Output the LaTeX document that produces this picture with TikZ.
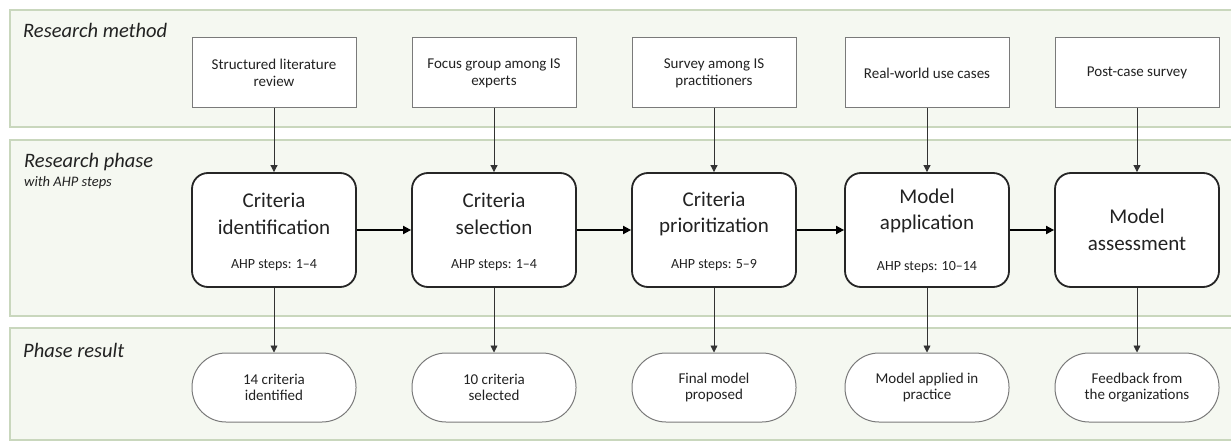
\documentclass[tikz,border=0pt]{standalone}
\usepackage{fontspec}
\setmainfont{Carlito}
\usetikzlibrary{arrows.meta}
\definecolor{bandfill}{HTML}{F5F8F1}
\definecolor{bandline}{HTML}{C9D7BD}
\definecolor{boxline}{HTML}{7A7A7A}
\definecolor{txt}{HTML}{222222}
\tikzset{
  band/.style={draw=bandline, line width=1.6pt, fill=bandfill},
  bandtitle/.style={anchor=base west, inner sep=0pt, font=\fontsize{20.5}{24}\selectfont\itshape, text=txt},
  bandsub/.style={anchor=base west, inner sep=0pt, font=\fontsize{14.5}{16}\selectfont\itshape, text=txt},
  methodbox/.style={draw=boxline, line width=1pt, fill=white, minimum width=164pt, minimum height=70pt, inner sep=0pt, align=center, text=txt, font=\fontsize{15}{17}\selectfont},
  phasebox/.style={draw=black!85, line width=1.8pt, fill=white, rounded corners=16pt, minimum width=164pt, minimum height=114pt, inner sep=0pt},
  phasetitle/.style={align=center, inner sep=0pt, text=txt, font=\fontsize{21}{26.5}\selectfont},
  ahp/.style={inner sep=0pt, text=txt, font=\fontsize{14}{15}\selectfont},
  resultbox/.style={draw=boxline, line width=1pt, fill=white, rounded corners=34pt, minimum width=164pt, minimum height=69pt, inner sep=0pt, align=center, text=txt, font=\fontsize{15}{16.5}\selectfont},
  thinarrow/.style={draw=black!80, line width=0.8pt, -{Triangle[width=7pt,length=7pt]}},
  thickarrow/.style={draw=black, line width=1.8pt, -{Triangle[width=8pt,length=8pt]}}
}
\begin{document}
\begin{tikzpicture}[x=1pt,y=-1pt]
\useasboundingbox (0,0) rectangle (1231,441);
\begin{scope}
\clip (0,0) rectangle (1231,441);
\draw[band] (10,10) rectangle (1245,127);
\draw[band] (10,140) rectangle (1245,316);
\draw[band] (10,328) rectangle (1245,440);
\end{scope}
\node[bandtitle] (t1) at (23,38) {Research method};
\node[bandtitle] (t2) at (24,167) {Research phase};
\node[bandsub] (t2s) at (24,186) {with AHP steps};
\node[bandtitle] (t3) at (23,357) {Phase result};

% method boxes
\node[methodbox] (m1) at (274,73) {Structured literature\\review};
\node[methodbox] (m2) at (494,73) {Focus group among IS\\experts};
\node[methodbox] (m3) at (714,73) {Survey among IS\\practitioners};
\node[methodbox] (m4) at (927,73) {Real-world use cases};
\node[methodbox] (m5) at (1137,73) {Post-case survey};

% phase boxes
\node[phasebox] (p1) at (274,230) {};
\node[phasebox] (p2) at (494,230) {};
\node[phasebox] (p3) at (714,230) {};
\node[phasebox] (p4) at (927,230) {};
\node[phasebox] (p5) at (1137,230) {};
\node[phasetitle] (p1t) at ([yshift=16pt]p1.center) {Criteria\\identification};
\node[phasetitle] (p2t) at ([yshift=16pt]p2.center) {Criteria\\selection};
\node[phasetitle] (p3t) at ([yshift=16pt]p3.center) {Criteria\\prioritization};
\node[phasetitle] (p4t) at ([yshift=19pt]p4.center) {Model\\application};
\node[phasetitle] (p5t) at (p5.center) {Model\\assessment};
\node[ahp] (p1a) at ([yshift=-35pt]p1.center) {AHP steps: 1–4};
\node[ahp] (p2a) at ([yshift=-35pt]p2.center) {AHP steps: 1–4};
\node[ahp] (p3a) at ([yshift=-35pt]p3.center) {AHP steps: 5–9};
\node[ahp] (p4a) at ([yshift=-37pt]p4.center) {AHP steps: 10–14};

% result boxes
\node[resultbox] (r1) at (274,387.5) {14 criteria\\identified};
\node[resultbox] (r2) at (494,387.5) {10 criteria\\selected};
\node[resultbox] (r3) at (714,387.5) {Final model\\proposed};
\node[resultbox] (r4) at (927,387.5) {Model applied in\\practice};
\node[resultbox] (r5) at (1137,387.5) {Feedback from\\the organizations};

\foreach \i in {1,...,5}{
  \draw[thinarrow] (m\i.south) -- (p\i.north);
  \draw[thinarrow] (p\i.south) -- (r\i.north);
}
\draw[thickarrow] (p1.east) -- (p2.west);
\draw[thickarrow] (p2.east) -- (p3.west);
\draw[thickarrow] (p3.east) -- (p4.west);
\draw[thickarrow] (p4.east) -- (p5.west);
\end{tikzpicture}
\end{document}
